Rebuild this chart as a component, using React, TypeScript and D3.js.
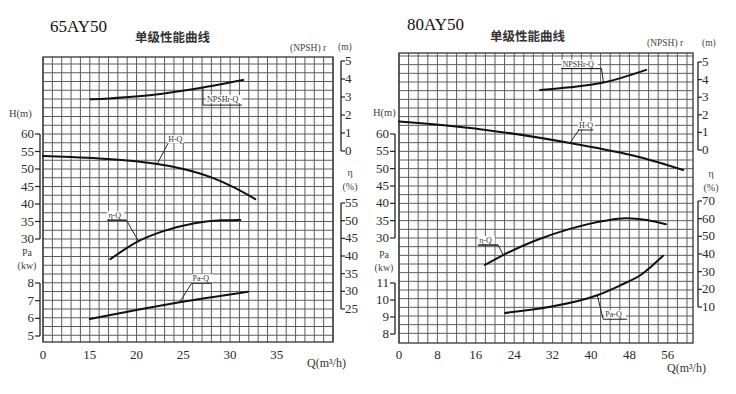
import React from 'react';
import * as d3 from 'd3';

// ---- 65AY50 ----
const qTicksA = [10, 15, 20, 25, 30, 35];
const qLabelsA = ['0', '15', '20', '25', '30', '35'];
const hTicksA = [60, 55, 50, 45, 40, 35, 30];
const npshTicksA = [5, 4, 3, 2, 1, 0];
const effTicksA = [55, 50, 45, 40, 35, 30, 25];
const paTicksA = [8, 7, 6, 5];
const hCurveA: [number, number][] = [[10, 53.7], [13, 53.4], [16, 53.0], [19, 52.4], [22, 51.5], [25, 50.0], [28, 47.6], [30.3, 44.9], [32.7, 41.4]];
const npshCurveA: [number, number][] = [[15.1, 2.87], [21.4, 3.1], [26.8, 3.5], [31.4, 3.94]];
const effCurveA: [number, number][] = [[17.2, 39.1], [20.2, 44.2], [22.7, 46.9], [26.2, 49.3], [29.1, 50.1], [31.1, 50.2]];
const paCurveA: [number, number][] = [[15, 5.96], [20.4, 6.51], [24.6, 6.91], [31.9, 7.51]];

// ---- 80AY50 ----
const qTicksB = [0, 8, 16, 24, 32, 40, 48, 56];
const qLabelsB = qTicksB.map(String);
const hTicksB = [60, 55, 50, 45, 40, 35, 30];
const npshTicksB = [5, 4, 3, 2, 1, 0];
const effTicksB = [70, 60, 50, 40, 30, 20, 10];
const paTicksB = [11, 10, 9, 8];
const hCurveB: [number, number][] = [[0, 63.6], [16.9, 61.4], [35.6, 57.4], [49.6, 53.5], [59.2, 49.6]];
const npshCurveB: [number, number][] = [[29.4, 3.41], [35.6, 3.56], [42.6, 3.83], [51.5, 4.55]];
const effCurveB: [number, number][] = [[17.9, 33.8], [21.7, 39.4], [28.7, 47.9], [35.6, 54.2], [42.6, 58.7], [47.4, 60.2], [51.6, 59.2], [55.6, 56.8]];
const paCurveB: [number, number][] = [[22.1, 9.24], [31.5, 9.6], [41.3, 10.28], [46, 10.85], [50.5, 11.5], [55, 12.6]];

const serif = '"Liberation Serif", "DejaVu Serif", serif';
const cjk = '"Noto Sans CJK SC", sans-serif';

type Ann = { label: string; s: 'h' | 'npsh' | 'eff' | 'pa'; at: [number, number]; lead: [number, number]; ux: [number, number]; tx: number; ty: number };

const annA: Ann[] = [
  { label: 'NPSHr-Q', s: 'npsh', at: [27.1, 3.55], lead: [0, 18], ux: [0, 39], tx: 4, ty: 15 },
  { label: 'H-Q', s: 'h', at: [22.2, 51.4], lead: [11, -21], ux: [11, 11], tx: 11, ty: -22 },
  { label: 'η-Q', s: 'eff', at: [20.2, 44.2], lead: [-12, -21], ux: [-31, -12], tx: -30, ty: -23 },
  { label: 'Pa-Q', s: 'pa', at: [24.6, 6.91], lead: [12, -19], ux: [12, 32], tx: 13, ty: -21 },
];
const annB: Ann[] = [
  { label: 'NPSHr-Q', s: 'npsh', at: [42.6, 3.83], lead: [-2, -14], ux: [-42, -2], tx: -41, ty: -16 },
  { label: 'H-Q', s: 'h', at: [35.6, 57.4], lead: [9, -13], ux: [8, 23], tx: 9, ty: -15 },
  { label: 'η-Q', s: 'eff', at: [21.7, 39.4], lead: [-5, -10], ux: [-25, -5], tx: -24, ty: -12 },
  { label: 'Pa-Q', s: 'pa', at: [41.3, 10.28], lead: [6, 24], ux: [6, 30], tx: 8, ty: 22 },
];

type Cfg = {
  title: string; titleX: number; titleY: number; subX: number; subY: number;
  x0: number; x1: number; y0: number; y1: number;
  qDomain: [number, number]; qStep: number; qTicks: number[]; qLabels: string[];
  hDom: [number, number]; hRange: [number, number]; hTicks: number[];
  nDom: [number, number]; nRange: [number, number]; nTicks: number[];
  eDom: [number, number]; eRange: [number, number]; eTicks: number[];
  pDom: [number, number]; pRange: [number, number]; pTicks: number[];
  curves: { h: [number, number][]; npsh: [number, number][]; eff: [number, number][]; pa: [number, number][] };
  ann: Ann[];
  lAxis: number; rAxis: number; qLabelX: number; qLabelY: number;
  hLbl: [number, number]; paLbl: [number, number]; npshLbl: [number, number]; mLbl: [number, number]; etaLbl: [number, number];
};

const cfgA: Cfg = {
  title: '65AY50', titleX: 50, titleY: 32, subX: 135, subY: 42,
  x0: 43, x1: 333, y0: 57, y1: 342,
  qDomain: [10, 41], qStep: 1, qTicks: qTicksA, qLabels: qLabelsA,
  hDom: [30, 60], hRange: [239, 134], hTicks: hTicksA,
  nDom: [0, 5], nRange: [151, 61], nTicks: npshTicksA,
  eDom: [25, 55], eRange: [309, 203], eTicks: effTicksA,
  pDom: [5, 8], pRange: [336, 283], pTicks: paTicksA,
  curves: { h: hCurveA, npsh: npshCurveA, eff: effCurveA, pa: paCurveA },
  ann: annA,
  lAxis: 40, rAxis: 341, qLabelX: 307, qLabelY: 367,
  hLbl: [9, 117], paLbl: [27, 256], npshLbl: [290, 51], mLbl: [338, 50], etaLbl: [350, 176],
};

const cfgB: Cfg = {
  title: '80AY50', titleX: 407, titleY: 30, subX: 490, subY: 41,
  x0: 399, x1: 693, y0: 53, y1: 343,
  qDomain: [0, 61.25], qStep: 2, qTicks: qTicksB, qLabels: qLabelsB,
  hDom: [30, 60], hRange: [238, 134], hTicks: hTicksB,
  nDom: [0, 5], nRange: [150, 62], nTicks: npshTicksB,
  eDom: [10, 70], eRange: [307, 201], eTicks: effTicksB,
  pDom: [8, 11], pRange: [334, 283], pTicks: paTicksB,
  curves: { h: hCurveB, npsh: npshCurveB, eff: effCurveB, pa: paCurveB },
  ann: annB,
  lAxis: 395, rAxis: 698, qLabelX: 667, qLabelY: 372,
  hLbl: [373, 116], paLbl: [384, 258], npshLbl: [647, 46], mLbl: [702, 46], etaLbl: [711, 177],
};

function PumpChart({ c }: { c: Cfg }) {
  const x = d3.scaleLinear().domain(c.qDomain).range([c.x0, c.x1]);
  const h = d3.scaleLinear().domain(c.hDom).range(c.hRange);
  const n = d3.scaleLinear().domain(c.nDom).range(c.nRange);
  const e = d3.scaleLinear().domain(c.eDom).range(c.eRange);
  const p = d3.scaleLinear().domain(c.pDom).range(c.pRange);
  const ys = { h, npsh: n, eff: e, pa: p };

  // grid
  const vLines = d3.range(c.qDomain[0], c.qDomain[1] + 0.01, c.qStep).map(x);
  const hLines = d3.range(-5, 95, 2.5).map(h).filter(y => y > c.y0 + 1 && y < c.y1 - 1);

  const line = (s: d3.ScaleLinear<number, number>) =>
    d3.line<[number, number]>().x(d => x(d[0])).y(d => s(d[1])).curve(d3.curveMonotoneX);

  const leftAxis = (s: d3.ScaleLinear<number, number>, ticks: number[], key: string) => (
    <g key={key}>
      <line x1={c.lAxis} x2={c.lAxis} y1={s(ticks[0])} y2={s(ticks[ticks.length - 1])} stroke="#222" strokeWidth={1.3} />
      {ticks.map(t => (
        <g key={t}>
          <line x1={c.lAxis - 5} x2={c.lAxis} y1={s(t)} y2={s(t)} stroke="#222" strokeWidth={1.2} />
          <text x={c.lAxis - 6} y={s(t) + 4} textAnchor="end" fontSize={13} fill="#2a2a2a" fontFamily={serif}>{t}</text>
        </g>
      ))}
    </g>
  );
  const rightAxis = (s: d3.ScaleLinear<number, number>, ticks: number[], key: string) => (
    <g key={key}>
      <line x1={c.rAxis} x2={c.rAxis} y1={s(ticks[0])} y2={s(ticks[ticks.length - 1])} stroke="#222" strokeWidth={1.3} />
      {ticks.map(t => (
        <g key={t}>
          <line x1={c.rAxis} x2={c.rAxis + 4} y1={s(t)} y2={s(t)} stroke="#222" strokeWidth={1.2} />
          <text x={c.rAxis + 4} y={s(t) + 4} textAnchor="start" fontSize={13} fill="#2a2a2a" fontFamily={serif}>{t}</text>
        </g>
      ))}
    </g>
  );

  return (
    <g>
      <text x={c.titleX} y={c.titleY} fontSize={17} fill="#111" fontFamily={serif}>{c.title}</text>
      <text x={c.subX} y={c.subY} fontSize={12.5} fontWeight={700} fill="#333" fontFamily={cjk}>单级性能曲线</text>

      {/* grid */}
      <g stroke="#5c5c5c" strokeWidth={1}>
        {vLines.map((v, i) => <line key={'v' + i} x1={v} x2={v} y1={c.y0} y2={c.y1} />)}
        {hLines.map((v, i) => <line key={'h' + i} x1={c.x0} x2={c.x1} y1={v} y2={v} />)}
      </g>
      <rect x={c.x0} y={c.y0} width={c.x1 - c.x0} height={c.y1 - c.y0} fill="none" stroke="#333" strokeWidth={1.3} />

      {/* axes */}
      {leftAxis(h, c.hTicks, 'h')}
      {leftAxis(p, c.pTicks, 'p')}
      {rightAxis(n, c.nTicks, 'n')}
      {rightAxis(e, c.eTicks, 'e')}
      {c.qTicks.map((t, i) => (
        <text key={t} x={x(t)} y={359} textAnchor="middle" fontSize={13} fill="#2a2a2a" fontFamily={serif}>{c.qLabels[i]}</text>
      ))}

      {/* axis titles */}
      <text x={c.hLbl[0]} y={c.hLbl[1]} fontSize={10.5} fill="#444" fontFamily={serif}>H(m)</text>
      <text x={c.paLbl[0]} y={c.paLbl[1]} fontSize={10} fill="#444" fontFamily={serif} textAnchor="middle">Pa</text>
      <text x={c.paLbl[0]} y={c.paLbl[1] + 13} fontSize={10} fill="#444" fontFamily={serif} textAnchor="middle">(kw)</text>
      <text x={c.etaLbl[0]} y={c.etaLbl[1]} fontSize={10} fill="#444" fontFamily={serif} textAnchor="middle">η</text>
      <text x={c.etaLbl[0]} y={c.etaLbl[1] + 14} fontSize={10} fill="#444" fontFamily={serif} textAnchor="middle">(%)</text>
      <text x={c.npshLbl[0]} y={c.npshLbl[1]} fontSize={9.5} fill="#444" fontFamily={serif}>(NPSH) r</text>
      <text x={c.mLbl[0]} y={c.mLbl[1]} fontSize={9.5} fill="#444" fontFamily={serif}>(m)</text>
      <text x={c.qLabelX} y={c.qLabelY} fontSize={12} fill="#333" fontFamily={serif}>Q(m³/h)</text>

      {/* curves */}
      <g fill="none" stroke="#111" strokeWidth={2} strokeLinecap="round">
        <path d={line(h)(c.curves.h) || ''} />
        <path d={line(n)(c.curves.npsh) || ''} />
        <path d={line(e)(c.curves.eff) || ''} />
        <path d={line(p)(c.curves.pa) || ''} />
      </g>

      {/* curve labels */}
      {c.ann.map(a => {
        const ax = x(a.at[0]);
        const ay = ys[a.s](a.at[1]);
        const lx = ax + a.lead[0];
        const ly = ay + a.lead[1];
        const w = a.label.length * 4.9;
        return (
          <g key={a.label}>
            <rect x={ax + a.tx - 1} y={ay + a.ty - 7} width={w + 2} height={8} fill="#fff" />
            <polyline points={`${ax},${ay} ${lx},${ly} ${ax + a.ux[0]},${ly} ${ax + a.ux[1]},${ly}`} fill="none" stroke="#222" strokeWidth={1} />
            <text x={ax + a.tx} y={ay + a.ty} fontSize={8} fill="#333" fontFamily={serif}>{a.label}</text>
          </g>
        );
      })}
    </g>
  );
}

export default function App() {
  return (
    <svg width={736} height={394} viewBox="0 0 736 394" style={{ position: 'fixed', left: 0, top: 0, background: '#fff' }}>
      <rect width={736} height={394} fill="#fff" />
      <PumpChart c={cfgA} />
      <PumpChart c={cfgB} />
    </svg>
  );
}
